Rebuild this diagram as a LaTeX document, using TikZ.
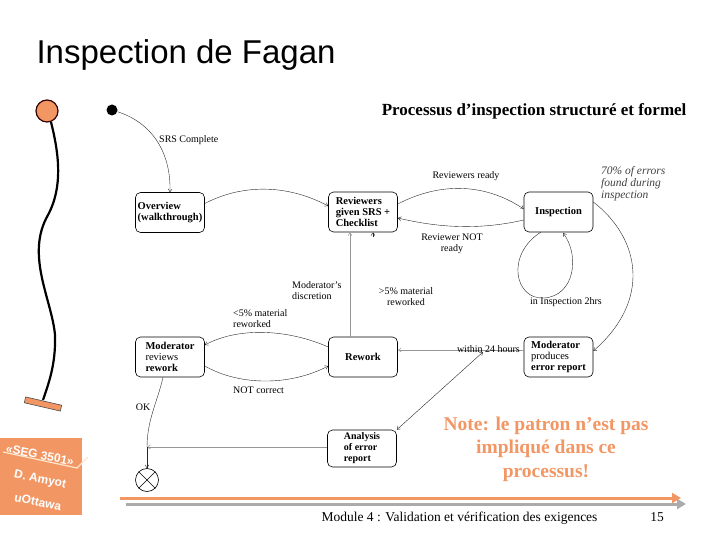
\documentclass[tikz,border=0pt]{standalone}
\usepackage{fontspec}
\setmainfont{Liberation Serif}
\newfontfamily\titlefont{Liberation Sans}
\newfontfamily\badgefont{Liberation Sans}
\usetikzlibrary{arrows.meta,calc}
\definecolor{org}{RGB}{242,150,100}
\definecolor{lineg}{RGB}{150,150,150}
\begin{document}
\begin{tikzpicture}[x=1pt,y=-1pt,
  statebox/.style={draw, rounded corners=5pt, minimum width=69pt, minimum height=40pt,
    align=left, font=\fontsize{10.5}{11}\selectfont, inner sep=2pt, line width=0.6pt},
  tr/.style={-{Straight Barb[length=3pt,width=4pt]}, line width=0.4pt, draw=black!85},
  trg/.style={-{Straight Barb[length=3pt,width=4pt]}, line width=0.5pt, draw=lineg},
  lbl/.style={font=\fontsize{10}{11}\selectfont, inner sep=1pt},
  badge/.style={text=white, font=\badgefont\bfseries\fontsize{12}{14}\selectfont, rotate=-11}
]
\useasboundingbox (0,0) rectangle (720,540);

% title and subtitle
\node[anchor=west, font=\titlefont\fontsize{33}{38}\selectfont] (title) at (33,55) {Inspection de Fagan};
\node[anchor=east, font=\bfseries\fontsize{17}{19}\selectfont] (subtitle) at (690,111) {Processus d’inspection structuré et formel};

% balloon
\node[circle, fill=org, draw=black!80!red, line width=1.2pt, minimum size=22pt, inner sep=0] (balloon) at (47,111) {};
\draw[line width=2.2pt] (51,122) .. controls (58,150) and (64,185) .. (48,215)
   .. controls (25,255) and (52,300) .. (55,335) .. controls (56,365) and (48,385) .. (43,400);
\node[rectangle, fill=org, draw=black!70, line width=0.6pt, minimum width=37pt, minimum height=6pt, inner sep=0, rotate=-13] (bar) at (43,404) {};

% states
\node[circle, fill=black, minimum size=11pt, inner sep=0] (init) at (112,110) {};
\node[statebox, font=\bfseries\fontsize{10.5}{11}\selectfont] (ov) at (170,212.5) {Overview\\(walkthrough)};
\node[statebox, font=\bfseries\fontsize{10.5}{11}\selectfont] (rev) at (363,212) {Reviewers\\given SRS +\\Checklist};
\node[statebox, font=\bfseries\fontsize{10.5}{11}\selectfont] (insp) at (558.5,212) {Inspection};
\node[statebox] (modrev) at (170,357) {\textbf{Moderator}\\reviews\\\textbf{rework}};
\node[statebox, font=\bfseries\fontsize{10.5}{11}\selectfont] (rework) at (363,357) {Rework};
\node[statebox] (modprod) at (558.5,357) {\textbf{Moderator}\\produces\\\textbf{error report}};
\node[statebox, minimum height=37pt, font=\bfseries\fontsize{10}{11}\selectfont] (ana) at (362,448.5) {Analysis\\of error\\report};
\node[circle, draw, line width=0.6pt, minimum size=23pt, inner sep=0] (term) at (147,480) {};
\draw[line width=0.6pt] (term.north west) -- (term.south east) (term.north east) -- (term.south west);
\coordinate (J) at (147,447);

% transitions
\draw[tr] (init) .. controls (150,122) and (171,150) .. (ov.north);
\node[lbl, anchor=west] (lsrs) at (158,140) {SRS Complete};

\draw[tr] ($(ov.east)+(0,-9)$) .. controls (240,185) and (285,183) .. ($(rev.west)+(0,-6)$);

\draw[tr] ($(rev.east)+(0,-8)$) .. controls (440,182) and (485,183) .. ($(insp.west)+(0,-3)$);
\node[lbl] (lready) at (466,176) {Reviewers ready};
\draw[tr] ($(insp.west)+(0,8)$) .. controls (480,230) and (440,228) .. ($(rev.east)+(0,6)$);
\node[lbl, align=center] (lnot) at (452,244) {Reviewer NOT\\ready};

\draw[tr] (541,232) .. controls (505,255) and (515,300) .. (544,298) .. controls (575,296) and (580,255) .. (563,233);
\node[lbl] (l2hrs) at (566,302) {in Inspection 2hrs};

\draw[tr] ($(insp.east)+(0,-10)$) .. controls (640,238) and (652,300) .. ($(modprod.east)+(0,-6)$);
\node[anchor=north west, align=left, text=black!75, inner sep=0, font=\itshape\fontsize{11.5}{12}\selectfont] (l70) at (601,166) {70\% of errors\\found during\\inspection};

\draw[trg] ($(modprod.west)+(0,-7)$) -- ($(rework.east)+(0,-7)$);
\node[lbl, anchor=base east] (l24) at (521,352) {within 24 hours};
\coordinate (dtop) at (483,352);
\draw[{Straight Barb[length=3pt,width=4pt]}-{Straight Barb[length=3pt,width=4pt]}, line width=0.4pt, draw=black!85] (dtop) -- (ana.north east);

\draw[trg] ($(rework.north)+(-13,0)$) -- ($(rev.south)+(-13,0)$);
\node[lbl, anchor=north west, align=left] (ldisc) at (291,280) {Moderator's\\discretion};
\draw[tr] ($(rev.south)+(10,5)$) -- ($(rev.south)+(10,0)$);
\node[lbl, align=center] (l5a) at (406,297) {>5\% material\\reworked};

\draw[tr] ($(rework.west)+(0,-10)$) .. controls (290,330) and (240,326) .. ($(modrev.east)+(0,-12)$);
\node[lbl, anchor=north west, align=left] (l5b) at (232,308) {<5\% material\\reworked};
\draw[tr] ($(modrev.east)+(0,9)$) .. controls (240,386) and (290,386) .. ($(rework.west)+(0,9)$);
\node[lbl, anchor=west] (lnotc) at (232,390) {NOT correct};

\draw[line width=0.4pt, draw=black!85] ($(modrev.south)+(-7,0)$) .. controls (158,400) and (147,420) .. (J);
\node[lbl] (lok) at (143,407) {OK};
\draw[trg] (ana.west |- J) -- (J);
\draw[tr] (J) -- (term.north);

% note
\node[font=\bfseries\fontsize{19.5}{23.5}\selectfont, text=org, align=center] (note) at (546,449) {Note: le patron n’est pas\\impliqué dans ce\\processus!};

% bottom bar
\draw[lineg!80, line width=3pt, -{Triangle[length=9pt,width=10pt]}] (126,504) -- (686,504);
\draw[org, line width=3pt, -{Triangle[length=9pt,width=10pt]}] (120,498) -- (681,498);
\node[anchor=base west, font=\fontsize{13.5}{15}\selectfont] (footer) at (318,521) {Module 4 : Validation et vérification des exigences};
\node[anchor=base, font=\fontsize{13.5}{15}\selectfont] (page) at (657,521) {15};

% badge
\fill[org] (0,438) rectangle (82,515);
\draw[line width=1.2pt, color=orange!20] (3,452) -- (77,468) -- (88,457);
\node[badge] (seg) at (40,455) {«SEG 3501»};
\node[badge] (amyot) at (40,480) {D. Amyot};
\node[badge] (uott) at (38,502) {uOttawa};
\end{tikzpicture}
\end{document}
